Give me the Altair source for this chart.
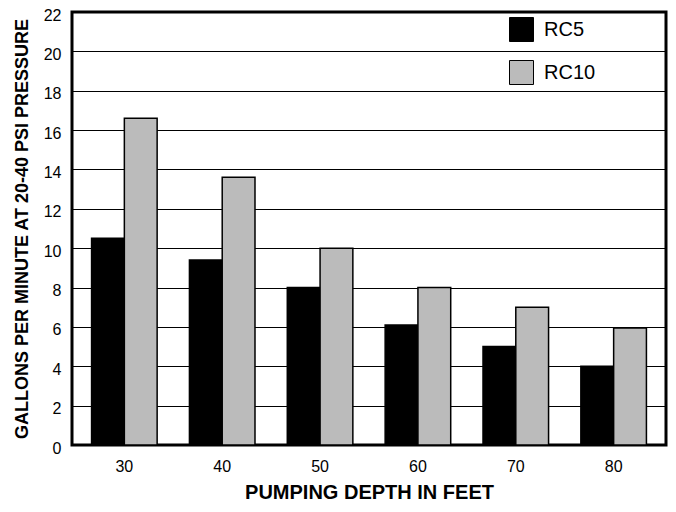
import altair as alt
import pandas as pd

depths = ["30", "40", "50", "60", "70", "80"]
rc5 = [10.5, 9.4, 8.0, 6.1, 5.0, 4.0]
rc10 = [16.6, 13.6, 10.0, 8.0, 7.0, 5.95]
series = ["RC5", "RC10"]
colors = ["#000000", "#bbbbbb"]
y_ticks = list(range(0, 23, 2))

rows = []
for d, a, b in zip(depths, rc5, rc10):
    rows.append({"depth": d, "model": "RC5", "gpm": a})
    rows.append({"depth": d, "model": "RC10", "gpm": b})
df = pd.DataFrame(rows)

FONT = "Liberation Sans"

chart = alt.Chart(df).mark_bar(stroke="black", strokeWidth=1.5).encode(
    x=alt.X("depth:N", sort=depths,
            scale=alt.Scale(paddingInner=0.33, paddingOuter=0.2),
            axis=alt.Axis(title="PUMPING DEPTH IN FEET", labelAngle=0, ticks=False,
                          domain=False, labelFontSize=16, labelPadding=13,
                          titleFontSize=20, titleFontWeight="bold", titlePadding=8,
                          labelColor="black", titleColor="black", labelFont=FONT, titleFont=FONT)),
    xOffset=alt.XOffset("model:N", sort=series),
    y=alt.Y("gpm:Q", scale=alt.Scale(domain=[0, 22], nice=False),
            axis=alt.Axis(title="GALLONS PER MINUTE AT 20-40 PSI PRESSURE", values=y_ticks,
                          ticks=False, domain=False, grid=True, gridColor="black",
                          gridWidth=1, gridOpacity=1, labelFontSize=16, labelPadding=11,
                          labelOffset=3,
                          titleFontSize=18, titleFontWeight="bold", titlePadding=12,
                          labelColor="black", titleColor="black", labelFont=FONT, titleFont=FONT)),
    color=alt.Color("model:N", sort=series,
                    scale=alt.Scale(domain=series, range=colors),
                    legend=alt.Legend(title=None, orient="none", legendX=437, legendY=5,
                                      symbolType="square", symbolSize=576,
                                      symbolStrokeColor="black", symbolStrokeWidth=1,
                                      symbolOpacity=1, labelFontSize=20, labelFont=FONT,
                                      labelColor="black", rowPadding=14, labelOffset=10,
                                      padding=0)),
).properties(
    width=594, height=433,
    autosize=alt.AutoSizeParams(type="none"),
    padding={"left": 64, "top": 4, "right": 2, "bottom": 59},
).configure(background="white").configure_view(
    stroke="black", strokeWidth=3
)

chart.save("out.html", embed_options={"renderer": "svg", "actions": False})
